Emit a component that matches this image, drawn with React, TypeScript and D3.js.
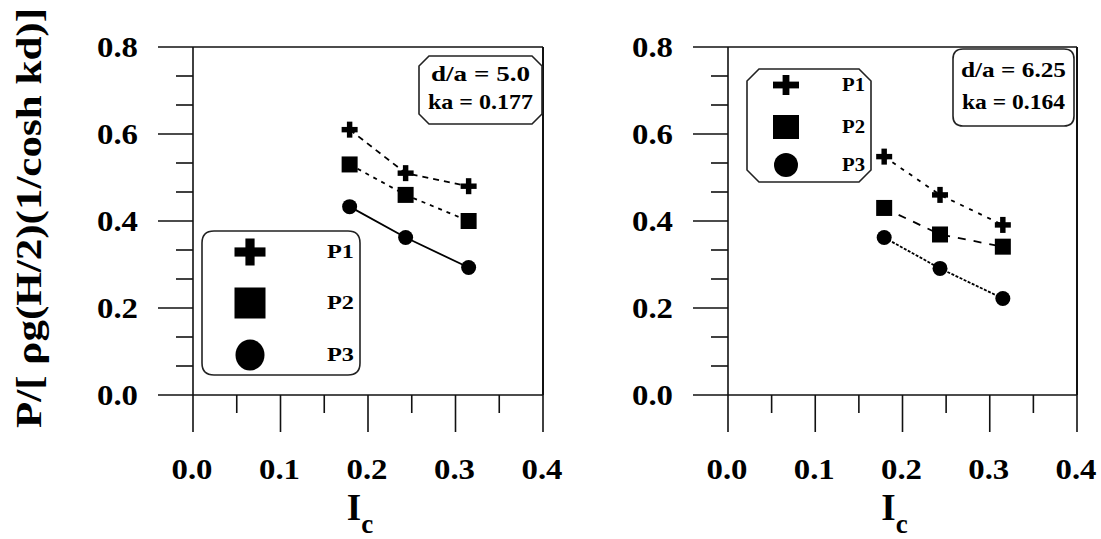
import React from "react";
import * as d3 from "d3";

const xValues = [0.179, 0.243, 0.315];
const leftP1 = [0.61, 0.51, 0.48];
const leftP2 = [0.53, 0.46, 0.4];
const leftP3 = [0.433, 0.362, 0.293];
const rightP1 = [0.548, 0.46, 0.391];
const rightP2 = [0.43, 0.369, 0.341];
const rightP3 = [0.362, 0.291, 0.222];
const xTicks = [0, 0.1, 0.2, 0.3, 0.4];
const yTicks = [0, 0.2, 0.4, 0.6, 0.8];
const seriesNames = ["P1", "P2", "P3"];
const leftNote = ["d/a = 5.0", "ka = 0.177"];
const rightNote = ["d/a = 6.25", "ka = 0.164"];

const FONT = "'Liberation Serif', 'DejaVu Serif', serif";

type Shape = "plus" | "square" | "circle";
const shapes: Shape[] = ["plus", "square", "circle"];

function boxPath(x: number, y: number, w: number, h: number, c: number, chamfer: boolean) {
  if (chamfer) {
    return `M${x + c},${y}H${x + w - c}L${x + w},${y + c}V${y + h - c}L${x + w - c},${y + h}H${x + c}L${x},${y + h - c}V${y + c}Z`;
  }
  return `M${x + c},${y}H${x + w - c}Q${x + w},${y} ${x + w},${y + c}V${y + h - c}Q${x + w},${y + h} ${x + w - c},${y + h}H${x + c}Q${x},${y + h} ${x},${y + h - c}V${y + c}Q${x},${y} ${x + c},${y}Z`;
}

function Marker({ shape, cx, cy, w, h }: { shape: Shape; cx: number; cy: number; w: number; h: number }) {
  if (shape === "plus") {
    const t = Math.min(w, h) * 0.34;
    return (
      <g fill="#000">
        <rect x={cx - w / 2} y={cy - t / 2} width={w} height={t} />
        <rect x={cx - t / 2} y={cy - h / 2} width={t} height={h} />
      </g>
    );
  }
  if (shape === "square") {
    return <rect x={cx - w / 2} y={cy - h / 2} width={w} height={h} fill="#000" />;
  }
  return <ellipse cx={cx} cy={cy} rx={w / 2} ry={h / 2} fill="#000" />;
}

interface PanelProps {
  left: number;
  right: number;
  series: number[][];
  dashes: string[];
  note: string[];
  noteBox: { x: number; y: number; w: number; h: number; lens: number[]; chamfer: boolean };
  legend: { x: number; y: number; w: number; h: number; mx: number; my: number[]; size: [number, number]; lx: number; llen: number; fs: number; chamfer: boolean };
}

function Panel({ left, right, series, dashes, note, noteBox, legend }: PanelProps) {
  const top = 47;
  const bottom = 395;
  const x = d3.scaleLinear().domain([0, 0.4]).range([left, right]);
  const y = d3.scaleLinear().domain([0, 0.8]).range([bottom, top]);
  const majorLen = 35;
  const minorLen = 17;
  const xMinor = d3.range(0.05, 0.4, 0.1);
  const yMinor = d3.range(0, 0.8, 0.2).flatMap((v) => [v + 0.2 / 3, v + 0.4 / 3]);
  const line = d3
    .line<number>()
    .x((_, i) => x(xValues[i]))
    .y((d) => y(d));
  const stroke = "#111";
  return (
    <g>
      <line x1={left} x2={right} y1={top} y2={top} stroke={stroke} strokeWidth={1.6} />
      <line x1={right} x2={right} y1={top} y2={bottom} stroke={stroke} strokeWidth={2} />
      <line x1={left} x2={right} y1={bottom} y2={bottom} stroke={stroke} strokeWidth={1.6} />
      <line x1={left} x2={left} y1={top} y2={bottom} stroke={stroke} strokeWidth={1.6} />
      {yTicks.map((t) => (
        <g key={"y" + t}>
          <line x1={left - majorLen} x2={left} y1={y(t)} y2={y(t)} stroke={stroke} strokeWidth={1.6} />
          <text
            x={left - 55}
            y={y(t)}
            dy="0.33em"
            textAnchor="end"
            fontFamily={FONT}
            fontWeight="bold"
            fontSize={29}
            textLength={41}
            lengthAdjust="spacingAndGlyphs"
          >
            {t.toFixed(1)}
          </text>
        </g>
      ))}
      {yMinor.map((t, i) => (
        <line key={"ym" + i} x1={left - minorLen} x2={left} y1={y(t)} y2={y(t)} stroke={stroke} strokeWidth={1.6} />
      ))}
      {xTicks.map((t) => (
        <g key={"x" + t}>
          <line x1={x(t)} x2={x(t)} y1={bottom} y2={bottom + majorLen + 2} stroke={stroke} strokeWidth={1.6} />
          <text
            x={x(t) - 1}
            y={468}
            dy="0.35em"
            textAnchor="middle"
            fontFamily={FONT}
            fontWeight="bold"
            fontSize={30}
            textLength={41}
            lengthAdjust="spacingAndGlyphs"
          >
            {t.toFixed(1)}
          </text>
        </g>
      ))}
      {xMinor.map((t, i) => (
        <line key={"xm" + i} x1={x(t)} x2={x(t)} y1={bottom} y2={bottom + minorLen + 1} stroke={stroke} strokeWidth={1.6} />
      ))}
      <text x={(left + right) / 2 - 8} y={520} fontFamily={FONT} fontWeight="bold" fontSize={37} textAnchor="middle">
        I
        <tspan fontSize={27} dy={13}>
          c
        </tspan>
      </text>
      {series.map((s, i) => (
        <path
          key={"l" + i}
          d={line(s) || ""}
          fill="none"
          stroke="#000"
          strokeWidth={1.8}
          strokeDasharray={dashes[i] === "none" ? undefined : dashes[i]}
        />
      ))}
      {series.map((s, i) =>
        s.map((v, j) => (
          <Marker
            key={"m" + i + "-" + j}
            shape={shapes[i]}
            cx={x(xValues[j])}
            cy={y(v)}
            w={shapes[i] === "circle" ? 15 : 16}
            h={shapes[i] === "circle" ? 15 : 16}
          />
        ))
      )}
      <path
        d={boxPath(noteBox.x, noteBox.y, noteBox.w, noteBox.h, 10, noteBox.chamfer)}
        fill="#fff"
        stroke="#222"
        strokeWidth={1.6}
      />
      {note.map((n, i) => (
        <text
          key={"n" + i}
          x={noteBox.x + noteBox.w / 2}
          y={noteBox.y + (i === 0 ? noteBox.h * 0.37 : noteBox.h * 0.78)}
          textAnchor="middle"
          fontFamily={FONT}
          fontWeight="bold"
          fontSize={22}
          textLength={noteBox.lens[i]}
          lengthAdjust="spacingAndGlyphs"
        >
          {n}
        </text>
      ))}
      <path
        d={boxPath(legend.x, legend.y, legend.w, legend.h, 12, legend.chamfer)}
        fill="#fff"
        stroke="#222"
        strokeWidth={1.6}
      />
      {seriesNames.map((name, i) => (
        <g key={"lg" + i}>
          <Marker
            shape={shapes[i]}
            cx={legend.mx}
            cy={legend.my[i]}
            w={shapes[i] === "circle" ? legend.size[0] - 2 : legend.size[0]}
            h={shapes[i] === "plus" ? legend.size[1] - 4 : legend.size[1]}
          />
          <text
            x={legend.lx}
            y={legend.my[i] + legend.fs * 0.35}
            textAnchor="end"
            fontFamily={FONT}
            fontWeight="bold"
            fontSize={legend.fs}
            textLength={legend.llen}
            lengthAdjust="spacingAndGlyphs"
          >
            {name}
          </text>
        </g>
      ))}
    </g>
  );
}

export default function App() {
  return (
    <svg width={1101} height={539} style={{ display: "block", position: "absolute", left: 0, top: 0, background: "#fff" }}>
      <rect width={1101} height={539} fill="#fff" />
      <text
        transform="translate(41,218) rotate(-90)"
        textAnchor="middle"
        fontFamily={FONT}
        fontWeight="bold"
        fontSize={36}
        textLength={420}
        lengthAdjust="spacingAndGlyphs"
      >
        P/[ ρg(H/2)(1/cosh kd)]
      </text>
      <Panel
        left={193}
        right={543}
        series={[leftP1, leftP2, leftP3]}
        dashes={["6 5", "4 5", "none"]}
        note={leftNote}
        noteBox={{ x: 419, y: 56, w: 123, h: 68, lens: [99, 105], chamfer: true }}
        legend={{ x: 202, y: 231, w: 158, h: 144, mx: 250, my: [252, 303, 355], size: [31, 31], lx: 354, llen: 27, fs: 18, chamfer: false }}
      />
      <Panel
        left={728}
        right={1077}
        series={[rightP1, rightP2, rightP3]}
        dashes={["4 6", "8 8", "3 1.5"]}
        note={rightNote}
        noteBox={{ x: 953, y: 49, w: 121, h: 77, lens: [105, 103], chamfer: false }}
        legend={{ x: 747, y: 69, w: 124, h: 113, mx: 786, my: [85, 127, 165], size: [26, 24], lx: 865, llen: 23, fs: 18, chamfer: true }}
      />
    </svg>
  );
}
